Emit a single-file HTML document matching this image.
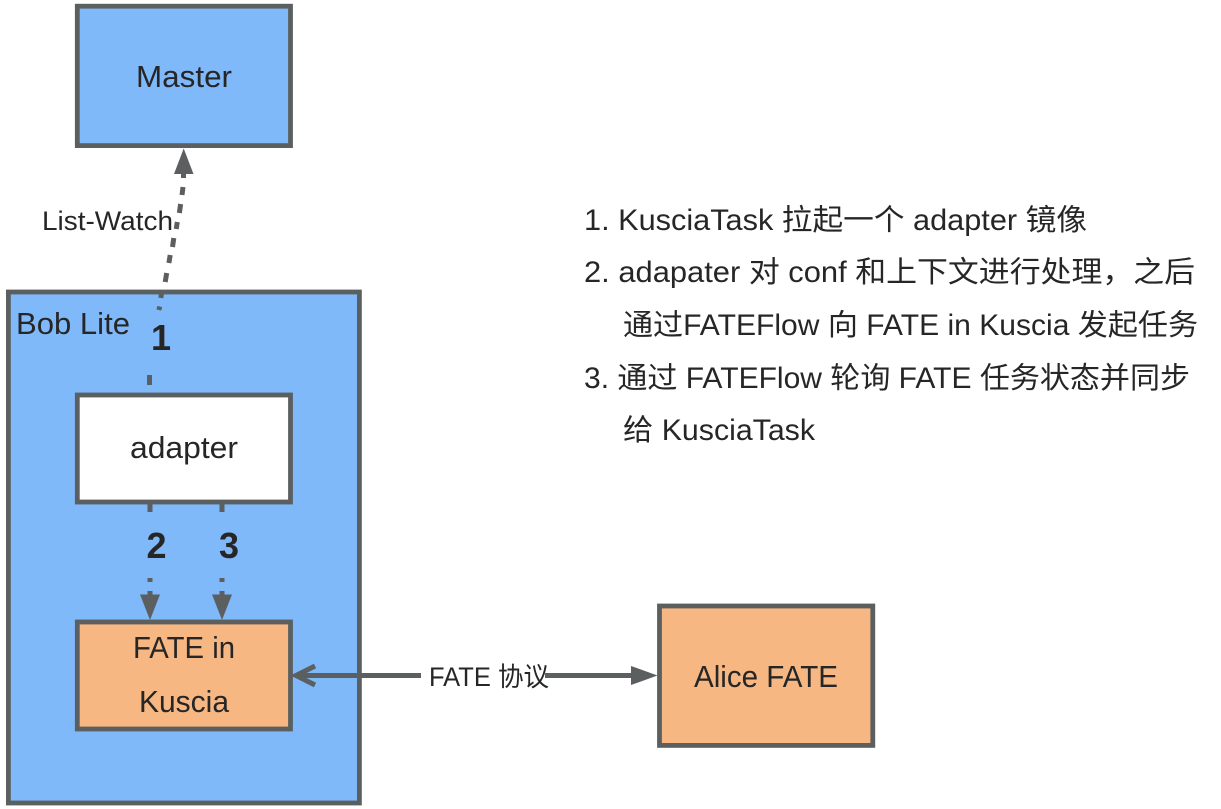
<!DOCTYPE html>
<html>
<head>
<meta charset="utf-8">
<style>
html,body{margin:0;padding:0;background:#fff;width:1221px;height:809px;overflow:hidden}
svg{display:block}
text{font-family:"Liberation Sans","Noto Sans CJK SC",sans-serif;fill:#262626;font-size:31px}
.b{font-weight:bold;font-size:36px}
.r{font-size:29.5px}
.s{font-size:26.5px}
</style>
</head>
<body>
<svg width="1221" height="809" viewBox="0 0 1221 809" xmlns="http://www.w3.org/2000/svg">
<rect width="1221" height="809" fill="#fff"/>
<g stroke="#5b5f60" stroke-width="4.8">
<rect x="77.3" y="6.2" width="213.2" height="139.4" fill="#7fb9fa"/>
<rect x="8.4" y="292" width="351" height="511" fill="#7fb9fa"/>
<rect x="77.3" y="395" width="213.2" height="107" fill="#fff"/>
<rect x="77.3" y="622" width="213.2" height="107" fill="#f6b782"/>
<rect x="659.5" y="606" width="213.3" height="139.4" fill="#f6b782"/>
</g>
<g stroke="#5b5f60" stroke-width="5" fill="none">
<path d="M149.5 375V385"/>
<path d="M159.8 306.5L158.8 310"/>
<path d="M162 290L160.8 298"/>
<path d="M166.7 273L165.2 282"/>
<path d="M170.2 255L168.9 263"/>
<path d="M173.8 238L172.5 247"/>
<path d="M177.3 222L176.2 229"/>
<path d="M180.6 204L179.4 213"/>
<path d="M183 187L182 195"/>
<path d="M183.5 172V178"/>
<path d="M150 503V512M150 578V582M150 591V600"/>
<path d="M222 503V512M222 578V582M222 591V600"/>
<path d="M298 675.5H421"/>
<path d="M545 675.5H636"/>
<path d="M315 666L296 675.5L315 685" stroke-linejoin="miter"/>
</g>
<g fill="#5b5f60">
<path d="M183.7 148.5L193.5 174H174Z"/>
<path d="M150 620L140 594.5H160Z"/>
<path d="M222 620L212 594.5H232Z"/>
<path d="M657.5 675.5L631 666V685Z"/>
</g>
<text x="136" y="87" textLength="96" lengthAdjust="spacingAndGlyphs">Master</text>
<text class="s" x="42" y="230" textLength="131" lengthAdjust="spacingAndGlyphs">List-Watch</text>
<text x="16" y="334" textLength="114" lengthAdjust="spacingAndGlyphs">Bob Lite</text>
<text x="130" y="458" textLength="108" lengthAdjust="spacingAndGlyphs">adapter</text>
<text x="133" y="658" textLength="102" lengthAdjust="spacingAndGlyphs">FATE in</text>
<text x="139" y="712" textLength="90" lengthAdjust="spacingAndGlyphs">Kuscia</text>
<text x="694" y="687" textLength="144" lengthAdjust="spacingAndGlyphs">Alice FATE</text>
<text class="s" x="429" y="686" textLength="120" lengthAdjust="spacingAndGlyphs">FATE 协议</text>
<text class="b" x="151" y="350">1</text>
<text class="b" x="146.5" y="558">2</text>
<text class="b" x="219" y="558">3</text>
<text class="r" x="584" y="230" textLength="503" lengthAdjust="spacingAndGlyphs">1. KusciaTask 拉起一个 adapter 镜像</text>
<text class="r" x="584" y="282" textLength="611" lengthAdjust="spacingAndGlyphs">2. adapater 对 conf 和上下文进行处理，之后</text>
<text class="r" x="623" y="335" textLength="575" lengthAdjust="spacingAndGlyphs">通过FATEFlow 向 FATE in Kuscia 发起任务</text>
<text class="r" x="584" y="388" textLength="606" lengthAdjust="spacingAndGlyphs">3. 通过 FATEFlow 轮询 FATE 任务状态并同步</text>
<text class="r" x="623" y="440" textLength="192" lengthAdjust="spacingAndGlyphs">给 KusciaTask</text>
</svg>
</body>
</html>
